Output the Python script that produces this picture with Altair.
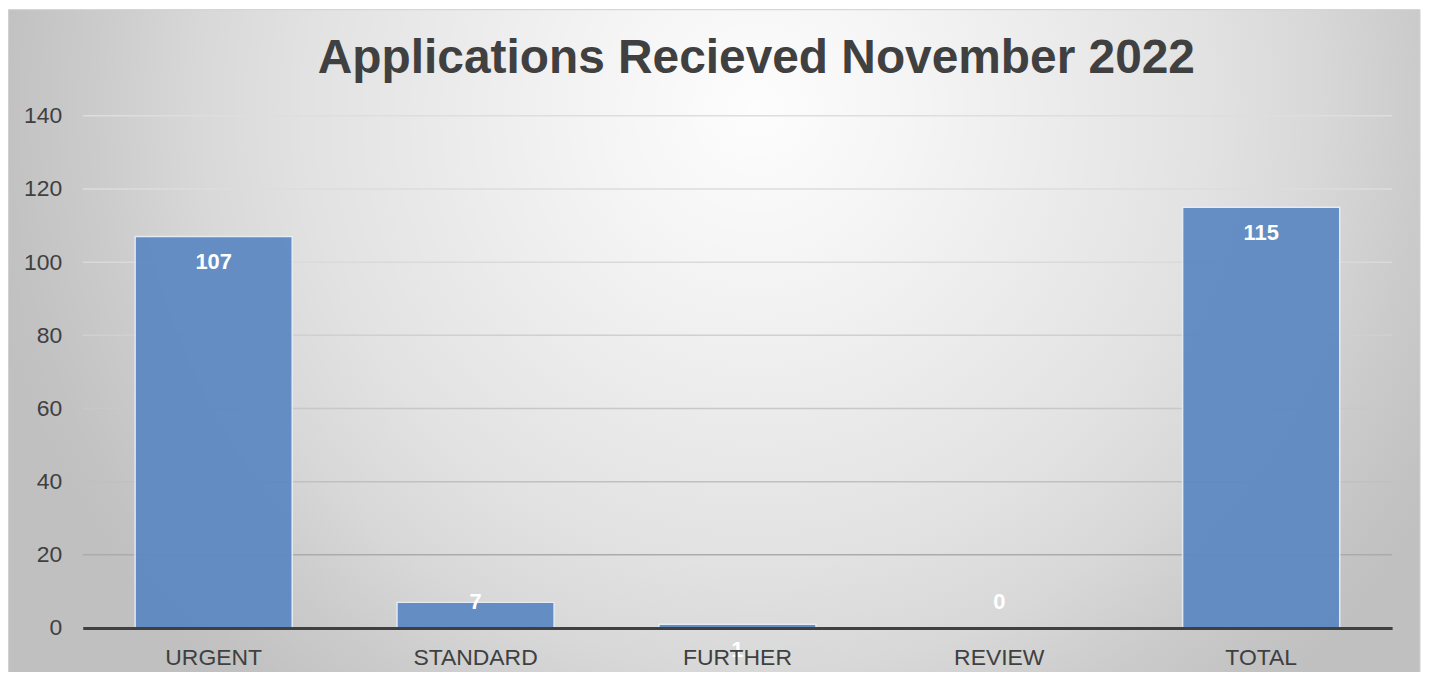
import altair as alt
import pandas as pd

categories = ["URGENT", "STANDARD", "FURTHER", "REVIEW", "TOTAL"]
counts = [107, 7, 1, 0, 115]
y_ticks = [0, 20, 40, 60, 80, 100, 120, 140]
title_text = "Applications Recieved November 2022"

df = pd.DataFrame({"category": categories, "count": counts})
grid_df = pd.DataFrame({"v": [t for t in y_ticks if t > 0]})

W, H = 1314, 514
PAD_L, PAD_T, PAD_R, PAD_B = 75, 107, 31, 43

y_axis = alt.Axis(values=y_ticks, labelFontSize=23, labelColor="#404040",
                  labelFont="Liberation Sans", labelPadding=21, ticks=False,
                  domain=False, grid=False, zindex=1)

x_enc = alt.X("category:N", sort=categories, title=None,
              scale=alt.Scale(paddingInner=0.4, paddingOuter=0.2),
              axis=alt.Axis(labelFontSize=23, labelColor="#404040", labelFont="Liberation Sans",
                            labelAngle=0, labelPadding=19, ticks=False, domain=True,
                            domainColor="#404040", domainWidth=3, zindex=1))
y_enc = alt.Y("count:Q", title=None, scale=alt.Scale(domain=[0, 140]), axis=y_axis)

grad = alt.RadialGradient(
    gradient="radial", x1=0.53, y1=0.33, x2=0.53, y2=0.33, r1=0, r2=0.56,
    stops=[alt.GradientStop(offset=0, color="#fdfdfd"),
           alt.GradientStop(offset=0.19, color="#f5f5f5"),
           alt.GradientStop(offset=0.57, color="#e2e2e2"),
           alt.GradientStop(offset=0.71, color="#d8d8d8"),
           alt.GradientStop(offset=0.84, color="#cbcbcb"),
           alt.GradientStop(offset=0.95, color="#c2c2c2"),
           alt.GradientStop(offset=1, color="#c0c0c0")])

bg = alt.Chart(pd.DataFrame({"k": [0]})).mark_rect(
    fill=grad, stroke="#d0d0d0", strokeWidth=1
).encode(x=alt.value(-PAD_L + 0.5), x2=alt.value(W + PAD_R - 3),
         y=alt.value(-PAD_T + 0.5), y2=alt.value(H + PAD_B + 20))

grid = alt.Chart(grid_df).mark_rule(strokeWidth=1.5).encode(
    y=alt.Y("v:Q", title=None, scale=alt.Scale(domain=[0, 140]), axis=y_axis),
    x=alt.value(0), x2=alt.value(W),
    color=alt.Color("v:Q", legend=None,
                    scale=alt.Scale(domain=[20, 40, 60, 80, 100, 140],
                                    range=["#ababab", "#c0c0c0", "#c8c8c8", "#d0d0d0",
                                           "#dadada", "#dedede"])))

base = alt.Chart(df)

bars = base.mark_bar(color="#5b88c2", opacity=0.93, stroke="#e6edf5", strokeWidth=1.5).encode(
    x=x_enc, y=y_enc)

lab_style = dict(color="white", fontSize=22, fontWeight="bold", font="Liberation Sans",
                 baseline="middle", align="center")
lab_in = base.transform_filter("datum.count >= 10 || datum.count == 1").mark_text(dy=26, **lab_style).encode(
    x=alt.X("category:N", sort=categories), y="count:Q", text="count:Q")
lab_top = base.transform_filter("datum.count == 7").mark_text(dy=0, **lab_style).encode(
    x=alt.X("category:N", sort=categories), y="count:Q", text="count:Q")
lab_up = base.transform_filter("datum.count == 0").mark_text(dy=-26, **lab_style).encode(
    x=alt.X("category:N", sort=categories), y="count:Q", text="count:Q")

title = alt.Chart(pd.DataFrame({"t": [title_text]})).mark_text(
    fontSize=48, fontWeight="bold", color="#404040", font="Liberation Sans",
    align="center", baseline="alphabetic"
).encode(text="t:N", x=alt.value(676), y=alt.value(-43))

chart = alt.layer(bg, grid, bars, lab_in, lab_top, lab_up, title).properties(
    width=W, height=H,
    padding={"left": PAD_L, "top": PAD_T, "right": PAD_R, "bottom": PAD_B},
    autosize=alt.AutoSizeParams(type="none"),
).resolve_scale(color="independent").configure_view(stroke=None).configure(background="#ffffff")

chart.save("out.html", embed_options={"renderer": "svg", "actions": False})
